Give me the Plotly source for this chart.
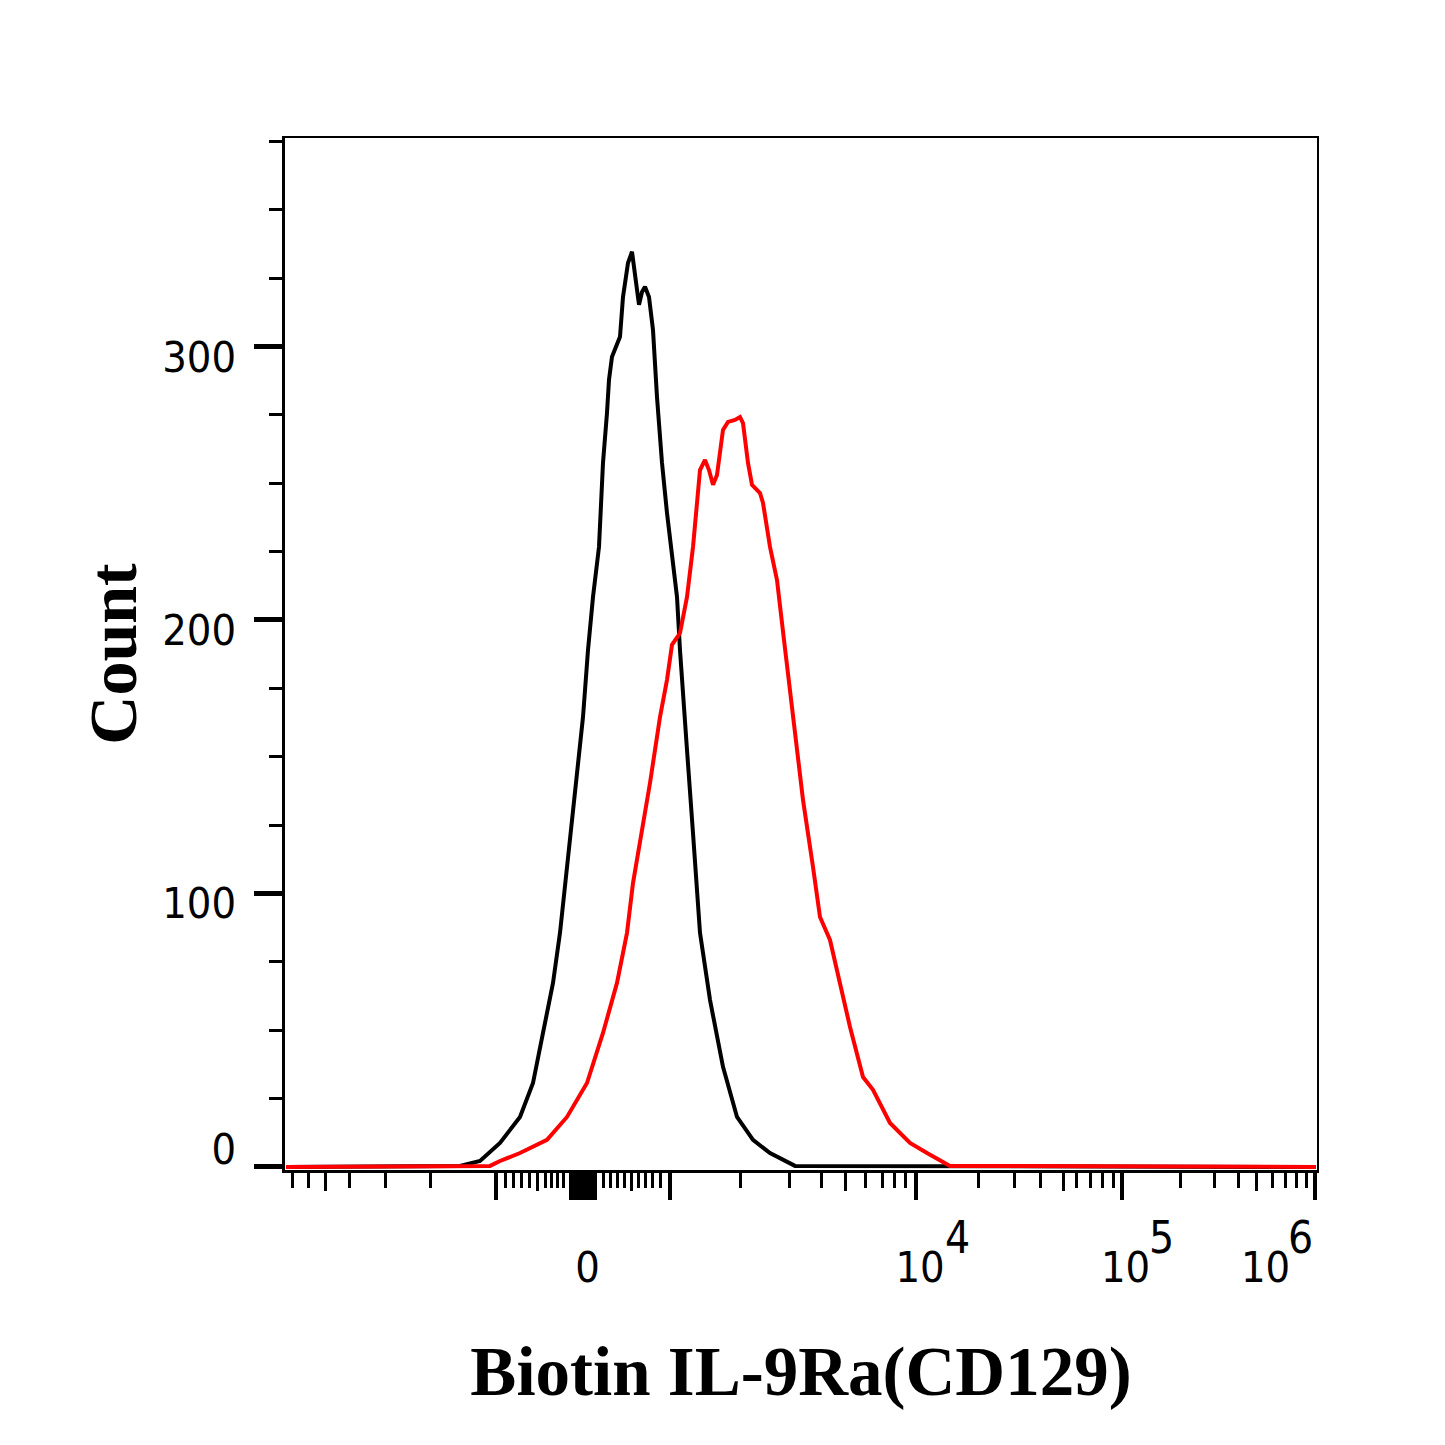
import plotly.graph_objects as go

# ---- data (x in display channel units of the biexponential scale, y = count)
isotype_x = [1, 175, 195, 215, 235, 248, 258, 268, 275, 282, 290, 298, 303, 308, 314, 318, 322, 324, 327,
             335, 338, 343, 347, 351, 354, 357, 360, 364, 368, 372, 377, 382, 388, 392, 395, 399, 402, 408,
             415, 425, 438, 452, 468, 485, 498, 510, 1031]
isotype_y = [0, 0.4, 2.2, 8.8, 18.3, 30.7, 49.0, 67.3, 85.6, 109.7, 134.2, 164.5, 189.0, 208.4, 226.7, 257.4,
             275.7, 287.8, 296.2, 303.5, 318.1, 330.5, 334.6, 324.3, 315.2, 319.9, 321.8, 318.1, 306.0, 281.5,
             257.4, 239.1, 220.8, 208.4, 189.0, 170.7, 152.5, 122.1, 85.6, 61.1, 36.6, 18.3, 9.9, 5.1, 2.6, 0.4, 0]

stained_x = [1, 205, 215, 235, 262, 282, 302, 318, 332, 342, 348, 355, 365, 375, 382, 387, 395, 402, 408, 415,
             420, 424, 428, 432, 435, 438, 443, 450, 455, 458, 463, 467, 475, 478, 485, 492, 499, 505, 510, 518,
             528, 535, 545, 555, 565, 578, 588, 605, 625, 642, 655, 665, 1031]
stained_y = [0, 0.4, 2.2, 5.1, 9.9, 18.3, 30.7, 49.0, 67.3, 85.6, 103.8, 118.5, 140.4, 164.5, 178.1, 190.9,
             195.2, 208.4, 226.7, 254.8, 258.5, 254.8, 249.4, 253.0, 262.2, 269.5, 272.4, 273.1, 274.2, 272.0,
             257.4, 249.4, 246.4, 242.8, 226.7, 214.6, 192.7, 174.4, 158.7, 134.2, 109.7, 91.4, 83.0, 67.3,
             51.2, 32.9, 28.2, 16.1, 8.8, 5.1, 2.6, 0.4, 0]

# ---- axis ticks (display units)
x_range = [0, 1032]
y_range = [-1.1, 376.2]
x_major_ticks = [211, 286, 289, 292, 295, 298, 301, 304, 307, 310, 385, 631, 837, 1030]
x_medium_ticks = [40, 252, 346, 560, 778, 971]
x_minor_ticks = [7, 23, 64, 100, 145, 220, 228, 236, 244, 260, 266, 272, 278, 318, 325, 332, 339, 353, 360,
                 367, 375, 455, 504, 536, 580, 597, 609, 620, 693, 729, 755, 791, 805, 817, 828, 895, 929,
                 953, 987, 1000, 1011, 1021]
x_label_pos = [302.5, 635, 840.5, 980.5]
x_label_text = ["0", "10", "10", "10"]
x_exp_pos = [672, 876, 1015.5]
x_exp_text = ["4", "5", "6"]

y_major_ticks = [0, 100, 200, 300]
y_minor_ticks = [25, 50, 75, 125, 150, 175, 225, 250, 275, 325, 350, 375]
y_label_pos = [6.6, 96.5, 196.3, 296.2]
y_label_text = ["0", "100", "200", "300"]

TICKFONT = dict(family="Liberation Sans Narrow, Arial Narrow, DejaVu Sans Condensed, sans-serif",
                size=43, color="black")
TITLEFONT = dict(family="Liberation Serif, Times New Roman, serif", size=69, color="black")

fig = go.Figure()
fig.add_trace(go.Scatter(x=isotype_x, y=isotype_y, mode="lines",
                         line=dict(color="black", width=4), name="Isotype", hoverinfo="skip"))
fig.add_trace(go.Scatter(x=stained_x, y=stained_y, mode="lines",
                         line=dict(color="#ff0000", width=4), name="Biotin IL-9Ra(CD129)", hoverinfo="skip"))
# empty helper traces so the overlay axes are drawn
for xa, ya in [("x2", "y"), ("x3", "y2"), ("x4", "y3")]:
    fig.add_trace(go.Scatter(x=[], y=[], xaxis=xa, yaxis=ya, showlegend=False, hoverinfo="skip"))

common = dict(showgrid=False, zeroline=False, automargin=False, fixedrange=True)

fig.update_layout(
    width=1437, height=1437,
    margin=dict(l=277, r=128, t=130, b=275),
    paper_bgcolor="white", plot_bgcolor="white",
    showlegend=False,
    xaxis=dict(range=x_range, tickmode="array", tickvals=x_major_ticks, ticks="outside",
               ticklen=27, tickwidth=4, tickcolor="black", showticklabels=False,
               showline=True, linewidth=3, linecolor="black",
               minor=dict(tickmode="array", tickvals=x_minor_ticks, ticks="outside",
                          ticklen=15, tickwidth=2.5, tickcolor="black"),
               **common),
    xaxis2=dict(range=x_range, overlaying="x", side="bottom", tickmode="array",
                tickvals=x_medium_ticks, ticks="outside", ticklen=20, tickwidth=2.5,
                tickcolor="black", showticklabels=False, showline=False, **common),
    xaxis3=dict(range=x_range, overlaying="x", side="bottom", tickmode="array",
                tickvals=x_label_pos, ticktext=x_label_text, ticks="", showline=False,
                tickfont=TICKFONT, ticklabelstandoff=68,
                title=dict(text="<b>Biotin IL-9Ra(CD129)</b>", font=TITLEFONT, standoff=55),
                **common),
    xaxis4=dict(range=x_range, overlaying="x", side="top", ticks="", showticklabels=False,
                showline=True, linewidth=2, linecolor="black", **common),
    yaxis=dict(range=y_range, tickmode="array", tickvals=y_major_ticks, ticks="outside",
               ticklen=28, tickwidth=5, tickcolor="black", showticklabels=False,
               showline=True, linewidth=3, linecolor="black",
               minor=dict(tickmode="array", tickvals=y_minor_ticks, ticks="outside",
                          ticklen=13, tickwidth=3, tickcolor="black"),
               **common),
    yaxis2=dict(range=y_range, overlaying="y", side="left", tickmode="array",
                tickvals=y_label_pos, ticktext=y_label_text, ticks="", showline=False,
                tickfont=TICKFONT, ticklabelstandoff=48,
                title=dict(text="<b>Count</b>", font=dict(TITLEFONT, size=68), standoff=3),
                **common),
    yaxis3=dict(range=y_range, overlaying="y", side="right", ticks="", showticklabels=False,
                showline=True, linewidth=2, linecolor="black", **common),
)

for xp, txt in zip(x_exp_pos, x_exp_text):
    fig.add_annotation(x=xp, y=0, xref="x", yref="paper", text=txt, showarrow=False,
                       xanchor="center", yanchor="middle", yshift=-67, font=dict(TICKFONT, size=44))

fig.write_html("out.html")
